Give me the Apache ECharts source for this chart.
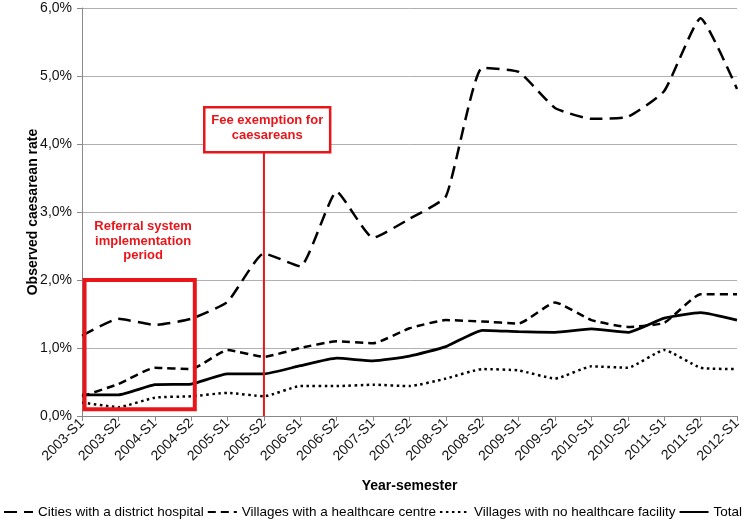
<!DOCTYPE html>
<html>
<head>
<meta charset="utf-8">
<script src="https://cdn.jsdelivr.net/npm/echarts@6/dist/echarts.min.js"></script>
<style>
html,body{margin:0;padding:0;background:#fff;}
#chart{width:750px;height:522px;}
</style>
</head>
<body>
<div id="chart"></div>
<script>
var categories = ['2003-S1','2003-S2','2004-S1','2004-S2','2005-S1','2005-S2','2006-S1','2006-S2','2007-S1','2007-S2','2008-S1','2008-S2','2009-S1','2009-S2','2010-S1','2010-S2','2011-S1','2011-S2','2012-S1'];
var cities = [1.18,1.43,1.34,1.43,1.68,2.39,2.20,3.30,2.62,2.90,3.23,5.12,5.06,4.53,4.37,4.40,4.78,5.85,4.81];
var villagesHC = [0.29,0.47,0.71,0.69,0.97,0.87,1.00,1.10,1.07,1.29,1.41,1.39,1.36,1.67,1.41,1.31,1.37,1.79,1.79];
var villagesNo = [0.20,0.13,0.27,0.29,0.34,0.29,0.44,0.44,0.46,0.44,0.55,0.69,0.67,0.55,0.73,0.71,0.97,0.71,0.69];
var total = [0.31,0.31,0.46,0.47,0.62,0.62,0.74,0.85,0.81,0.88,1.02,1.26,1.24,1.23,1.28,1.23,1.44,1.52,1.41];
var yTicks = [0,1,2,3,4,5,6];
var seriesNames = ['Cities with a district hospital','Villages with a healthcare centre','Villages with no healthcare facility','Total'];

var FONT = 'Liberation Sans, Arial, sans-serif';
var chart = echarts.init(document.getElementById('chart'), null, {renderer:'canvas'});

function fmt(v){ return v.toFixed(1).replace('.', ',') + '%'; }

function mkSeries(name, data, type, width, smooth){
  return {
    name: name, type: 'line', data: data, symbol: 'none', smooth: smooth,
    lineStyle: {color:'#000', width: width, type: type, cap: 'butt'},
    itemStyle: {color:'#000'},
    z: 3
  };
}

var option = {
  animation: false,
  backgroundColor: '#fff',
  textStyle: {fontFamily: FONT},
  grid: {left: 82, right: 13, top: 8, bottom: 106, containLabel: false},
  legend: {
    bottom: 3, left: 3, padding: 0,
    itemWidth: 29, itemHeight: 14, itemGap: 3,
    itemStyle: {opacity: 0},
    textStyle: {fontFamily: FONT, fontSize: 13.5, color: '#000'},
    data: seriesNames
  },
  xAxis: {
    type: 'category', data: categories, boundaryGap: false,
    name: 'Year-semester', nameLocation: 'middle', nameGap: 63,
    nameTextStyle: {fontFamily: FONT, fontSize: 14, fontWeight: 'bold', color: '#000'},
    axisLine: {lineStyle: {color: '#888', width: 1}},
    axisTick: {show: true, alignWithLabel: true, length: 5, lineStyle: {color: '#888'}},
    axisLabel: {rotate: 45, fontSize: 14, color: '#111', fontFamily: FONT, margin: 5, interval: 0},
    splitLine: {show: false}
  },
  yAxis: {
    type: 'value', min: 0, max: 6, interval: 1,
    name: 'Observed caesarean rate', nameLocation: 'middle', nameGap: 42, nameMoveOverlap: false,
    nameTextStyle: {fontFamily: FONT, fontSize: 14, fontWeight: 'bold', color: '#000'},
    axisLine: {show: true, lineStyle: {color: '#888', width: 1}},
    axisTick: {show: true, length: 5, lineStyle: {color: '#888'}},
    axisLabel: {fontSize: 14, color: '#111', fontFamily: FONT, margin: 10, formatter: fmt},
    splitLine: {lineStyle: {color: '#b0b0b0', width: 1}}
  },
  series: [
    mkSeries(seriesNames[0], cities, [13,7], 2.5, 0.15),
    mkSeries(seriesNames[1], villagesHC, [8,5], 2.5, 0.15),
    mkSeries(seriesNames[2], villagesNo, [2.5,3.5], 2.5, 0.15),
    mkSeries(seriesNames[3], total, 'solid', 2.8, 0.15)
  ]
};
chart.setOption(option);

// Annotations positioned through the chart's own scales (fractional category positions interpolated)
var a0 = chart.convertToPixel({xAxisIndex:0, yAxisIndex:0}, [0, 0]);
var a1 = chart.convertToPixel({xAxisIndex:0, yAxisIndex:0}, [1, 1]);
var step = a1[0] - a0[0];
function xp(idx){ return a0[0] + idx * step; }
function yp(v){ return chart.convertToPixel({yAxisIndex:0}, v); }

var boxL = xp(0.07), boxR = xp(3.1), boxT = yp(2.0), boxB = yp(0.1);
var fx = xp(5);
var fTop = yp(4.54), fBot = yp(3.88);
var fL = xp(3.36), fR = xp(6.82);
var axisBottom = yp(0);
var refCx = xp(1.68), refY = yp(2.89);

chart.setOption({
  graphic: [
    {type:'rect', shape:{x:boxL, y:boxT, width:boxR-boxL, height:boxB-boxT},
     style:{fill:null, stroke:'#e8161b', lineWidth:4}, z:10},
    {type:'text', x:refCx, y:refY,
     style:{text:'Referral system\nimplementation\nperiod', fill:'#e8161b', font:'bold 13px ' + FONT,
       align:'center', verticalAlign:'top', lineHeight:14.5}, z:10},
    {type:'line', shape:{x1:fx, y1:fBot, x2:fx, y2:axisBottom},
     style:{stroke:'#e8161b', lineWidth:2}, z:10},
    {type:'rect', shape:{x:fL, y:fTop, width:fR-fL, height:fBot-fTop},
     style:{fill:'#fff', stroke:'#e8161b', lineWidth:2.5}, z:10},
    {type:'text', x:(fL+fR)/2, y:fTop + 6,
     style:{text:'Fee exemption for\ncaesareans', fill:'#e8161b', font:'bold 13px ' + FONT,
       align:'center', verticalAlign:'top', lineHeight:14.5}, z:11}
  ]
});
</script>
</body>
</html>
